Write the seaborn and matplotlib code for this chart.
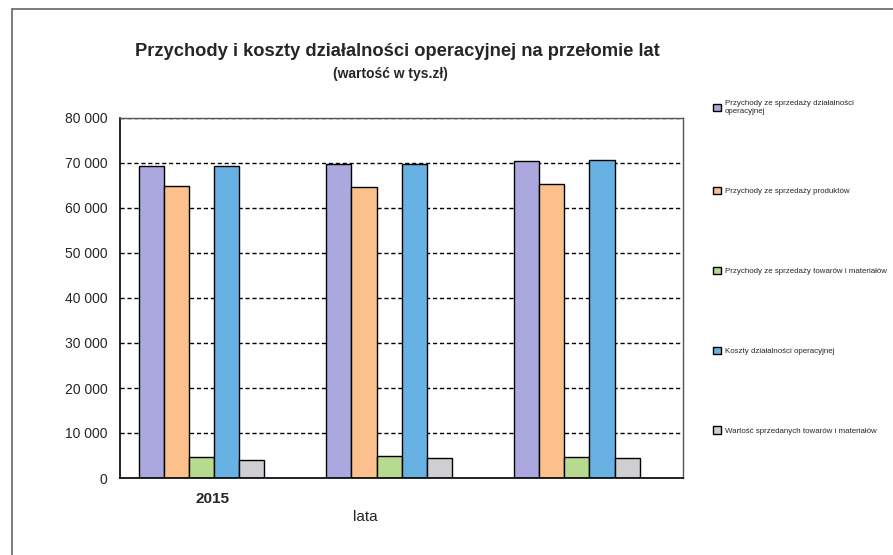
import pandas as pd
import matplotlib.pyplot as plt
import seaborn as sns
from matplotlib.patches import Rectangle
from matplotlib.ticker import FuncFormatter

# Data
years = ['2015', '2016', '2017']
year_labels = ['2015', '', '']
series = ['Przychody ze sprzedaży działalności\noperacyjnej',
          'Przychody ze sprzedaży produktów',
          'Przychody ze sprzedaży towarów i materiałów',
          'Koszty działalności operacyjnej',
          'Wartość sprzedanych towarów i materiałów']
przychody_dzial = [69300, 69800, 70400]
przychody_prod = [64900, 64700, 65400]
przychody_tow = [4600, 4900, 4700]
koszty_dzial = [69300, 69800, 70600]
wartosc_tow = [3900, 4500, 4400]
colors = ['#aaa8de', '#fbc08c', '#b6da90', '#68b2e3', '#cfcfd3']

rows = []
for name, vals in zip(series, [przychody_dzial, przychody_prod, przychody_tow,
                               koszty_dzial, wartosc_tow]):
    for y, v in zip(years, vals):
        rows.append({'rok': y, 'seria': name, 'wartosc': v})
df = pd.DataFrame(rows)

sns.set_style('white')
plt.rcParams['font.family'] = ['Liberation Sans', 'DejaVu Sans']

fig = plt.figure(figsize=(8.93, 5.55), dpi=100)
ax = fig.add_axes([120/893, 1-478/555, 563/893, 360/555])

sns.barplot(data=df, x='rok', y='wartosc', hue='seria', order=years,
            hue_order=series, palette=colors, width=0.67, gap=0,
            edgecolor='black', linewidth=1, saturation=1, ax=ax, legend=True)

# Axes
ax.set_ylim(0, 80000)
ax.set_yticks(range(0, 80001, 10000))
ax.yaxis.set_major_formatter(FuncFormatter(lambda v, p: f'{int(v):,}'.replace(',', ' ')))
ax.set_xlim(-0.434, 2.566)
ax.set_xticks([0.568, 1.568, 2.566], labels=['', '', ''])
ax.set_xticks([0.06, 1.06, 2.06], labels=year_labels, minor=True)
ax.tick_params(axis='x', which='minor', length=0, pad=10, labelsize=11)
for t in ax.get_xticklabels(minor=True):
    t.set_fontweight('bold')
ax.tick_params(axis='x', which='major', direction='out', length=4, width=1, color='black')
ax.tick_params(axis='y', direction='out', length=5, width=1, color='black', labelsize=10, pad=4)
ax.yaxis.grid(True, linestyle=(0, (3, 2)), color='black', linewidth=1)
ax.set_axisbelow(True)
for s in ['left', 'bottom']:
    ax.spines[s].set_color('black')
    ax.spines[s].set_linewidth(1.2)
for s in ['top', 'right']:
    ax.spines[s].set_color('#555555')
    ax.spines[s].set_linewidth(1)
ax.set_ylabel('')
ax.set_xlabel('lata', fontsize=11)
ax.xaxis.set_label_coords(0.435, -0.09)

# Legend
handles, labels = ax.get_legend_handles_labels()
ax.get_legend().remove()
fig.legend(handles, labels, loc='upper left', bbox_to_anchor=(706/893, 1-93/555),
           frameon=False, fontsize=5.7, labelspacing=9.05, handlelength=1.0,
           handleheight=1.0, handletextpad=0.5)

# Titles
fig.text(397/893, 1-52/555, 'Przychody i koszty działalności operacyjnej na przełomie lat',
         ha='center', va='center', fontsize=13.2, fontweight='bold')
fig.text(390/893, 1-74/555, '(wartość w tys.zł)', ha='center', va='center',
         fontsize=10, fontweight='bold')

# Outer frame
fig.patches.append(Rectangle((12/893, -0.1), 1.2, (555-9)/555 + 0.1,
                             transform=fig.transFigure, fill=False,
                             edgecolor='#666666', linewidth=1.2))

plt.savefig('out.png', dpi=100)
plt.close()
